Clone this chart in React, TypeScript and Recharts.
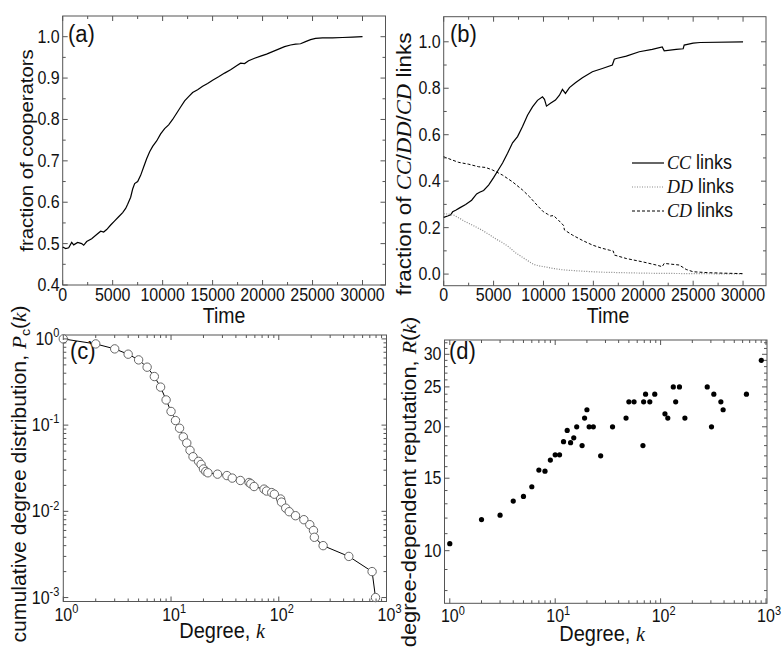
import React from "react";
import { LineChart, Line, ComposedChart, ScatterChart, Scatter, XAxis, YAxis, Legend } from "recharts";

// (a) fraction of cooperators
const A_TIME = [0, 300, 600, 900, 1100, 1500, 1900, 2100, 2400, 2900, 3400, 3800, 4100, 4400, 4800, 5200, 5600, 6000, 6300, 6500, 6800, 7000, 7200, 7500, 7800, 8100, 8400, 8700, 9000, 9400, 9800, 10200, 10600, 11000, 11400, 11800, 12200, 12600, 13000, 13500, 14000, 14500, 15000, 15600, 16200, 16800, 17400, 17800, 18200, 18600, 19200, 19800, 20400, 21000, 21600, 22200, 22800, 23300, 23800, 24300, 24800, 25300, 26000, 27000, 28000, 29000, 30000];
const A_FRAC = [0.492, 0.488, 0.49, 0.503, 0.497, 0.503, 0.5, 0.496, 0.505, 0.512, 0.522, 0.53, 0.528, 0.534, 0.545, 0.555, 0.565, 0.575, 0.585, 0.595, 0.612, 0.632, 0.645, 0.65, 0.665, 0.685, 0.705, 0.722, 0.735, 0.748, 0.765, 0.778, 0.787, 0.8, 0.815, 0.83, 0.845, 0.855, 0.865, 0.872, 0.88, 0.887, 0.895, 0.903, 0.912, 0.92, 0.93, 0.936, 0.935, 0.942, 0.948, 0.953, 0.958, 0.964, 0.97, 0.976, 0.98, 0.982, 0.983, 0.988, 0.993, 0.996, 0.997, 0.997, 0.998, 0.999, 1.0];

// (b) CC / DD / CD link fractions
const B_CC_TIME = [0, 400, 700, 900, 1200, 1600, 2200, 2800, 3300, 3600, 4000, 4500, 5000, 5500, 5900, 6400, 6900, 7400, 7900, 8400, 8900, 9400, 9900, 10100, 10300, 10700, 11200, 11600, 11900, 12200, 12600, 13200, 13900, 14900, 15900, 16900, 17100, 17300, 18300, 19600, 20900, 21900, 22100, 23300, 24000, 24100, 25000, 25700, 30000];
const B_CC = [0.244, 0.25, 0.255, 0.268, 0.275, 0.285, 0.3, 0.318, 0.345, 0.352, 0.36, 0.383, 0.415, 0.45, 0.478, 0.52, 0.565, 0.592, 0.635, 0.684, 0.72, 0.748, 0.763, 0.752, 0.723, 0.735, 0.749, 0.77, 0.795, 0.778, 0.803, 0.824, 0.845, 0.871, 0.885, 0.9, 0.925, 0.928, 0.938, 0.957, 0.967, 0.978, 0.961, 0.967, 0.97, 0.986, 0.994, 0.997, 1.0];
const B_DD_TIME = [0, 500, 1000, 1600, 2200, 3000, 3800, 4500, 5200, 5900, 6500, 7200, 7800, 8400, 9000, 9600, 10300, 11000, 12000, 13000, 14500, 16000, 18000, 20000, 22000, 25000, 28000, 30000];
const B_DD = [0.26, 0.258, 0.254, 0.24, 0.225, 0.208, 0.19, 0.172, 0.152, 0.135, 0.118, 0.092, 0.075, 0.058, 0.042, 0.035, 0.03, 0.024, 0.018, 0.015, 0.011, 0.008, 0.006, 0.004, 0.003, 0.002, 0.001, 0.001];
const B_CD_TIME = [0, 800, 1500, 2500, 3500, 4200, 4900, 5900, 6900, 7900, 8600, 9500, 10000, 10400, 10700, 11000, 11500, 12000, 12100, 12900, 13900, 14900, 15800, 16600, 17000, 17100, 18300, 19900, 21300, 21900, 22100, 23600, 24300, 25000, 26500, 28000, 30000];
const B_CD = [0.505, 0.492, 0.481, 0.473, 0.462, 0.459, 0.448, 0.426, 0.397, 0.362, 0.333, 0.29, 0.268, 0.258, 0.25, 0.252, 0.232, 0.21, 0.19, 0.168, 0.145, 0.125, 0.112, 0.103, 0.099, 0.082, 0.067, 0.053, 0.039, 0.032, 0.046, 0.039, 0.02, 0.01, 0.006, 0.004, 0.002];

// (c) cumulative degree distribution
const C_DEGREE = [1, 2, 3, 4, 5, 6, 7, 8, 9, 10, 11, 12, 13, 14, 15, 16, 18, 19, 20, 21, 22, 27, 33, 37, 44, 53, 55, 59, 73, 77, 86, 91, 104, 106, 116, 125, 143, 171, 194, 210, 214, 258, 447, 735, 791];
const C_PC = [1.0, 0.875, 0.766, 0.665, 0.571, 0.47, 0.366, 0.276, 0.196, 0.144, 0.113, 0.092, 0.073, 0.062, 0.051, 0.043, 0.038, 0.035, 0.031, 0.029, 0.028, 0.027, 0.026, 0.0243, 0.0228, 0.0216, 0.0209, 0.0194, 0.0181, 0.0172, 0.0165, 0.0158, 0.0139, 0.0128, 0.0109, 0.0099, 0.0089, 0.008, 0.007, 0.006, 0.005, 0.004, 0.003, 0.002, 0.001];

// (d) degree-dependent reputation
const D_DEGREE = [1, 2, 3, 4, 5, 6, 7, 8, 9, 10, 11, 12, 13, 14, 15, 16, 18, 19, 20, 21, 23, 27, 35, 47, 50, 56, 68, 69, 72, 79, 88, 110, 117, 132, 139, 151, 170, 277, 304, 320, 373, 392, 652, 903];
const D_REP = [10.4, 11.9, 12.2, 13.2, 13.55, 14.3, 15.7, 15.6, 16.6, 17.1, 17.1, 18.4, 19.6, 18.3, 18.8, 20, 18, 21, 22, 20, 20, 17, 20, 21, 23, 23, 18, 23, 24, 23, 24, 21.5, 21, 25, 23, 25, 21, 25, 20, 24, 23, 22, 24, 29];

// ticks
const TIME_MAJOR = [0, 5000, 10000, 15000, 20000, 25000, 30000];
const TIME_MINOR = [2500, 7500, 12500, 17500, 22500, 27500];
const A_Y_MAJOR = [0.4, 0.5, 0.6, 0.7, 0.8, 0.9, 1.0];
const A_Y_MINOR = [0.45, 0.55, 0.65, 0.75, 0.85, 0.95];
const B_Y_MAJOR = [0, 0.2, 0.4, 0.6, 0.8, 1.0];
const B_Y_MINOR = [0.1, 0.3, 0.5, 0.7, 0.9];
const DEG_MAJOR = [1, 10, 100, 1000];
const DEG_MINOR = [2, 3, 4, 5, 6, 7, 8, 9, 20, 30, 40, 50, 60, 70, 80, 90, 200, 300, 400, 500, 600, 700, 800, 900];
const C_Y_MAJOR = [0.001, 0.01, 0.1, 1];
const C_Y_MINOR = [0.002, 0.003, 0.004, 0.005, 0.006, 0.007, 0.008, 0.009, 0.02, 0.03, 0.04, 0.05, 0.06, 0.07, 0.08, 0.09, 0.2, 0.3, 0.4, 0.5, 0.6, 0.7, 0.8, 0.9];
const D_Y_MAJOR = [10, 15, 20, 25, 30];
const D_Y_MINOR = [8, 9, 11, 12, 13, 14, 16, 17, 18, 19, 21, 22, 23, 24, 26, 27, 28, 29, 31, 32];

const W = 784;
const H = 648;
const SANS = '"Liberation Sans", Arial, Helvetica, sans-serif';
const SERIF = '"Liberation Serif", "Times New Roman", serif';
const INK = "#111";
const FRAME = "#555";
const SY = 1.1; // the figure is a bit taller than wide
const TICK = 16;
const TITLE = 20;

type Box = { left: number; right: number; top: number; bottom: number };
const BOX_A: Box = { left: 62.7, right: 385.5, top: 16, bottom: 285 };
const BOX_B: Box = { left: 443.7, right: 766, top: 16.7, bottom: 285.7 };
const BOX_C: Box = { left: 63.3, right: 386.5, top: 335, bottom: 601.5 };
const BOX_D: Box = { left: 444.5, right: 767, top: 340, bottom: 603.3 };

const margins = (b: Box) => ({ top: b.top, left: 0, right: W - b.right, bottom: 0 });

function SText({ x, y, size, anchor = "start", rotate = false, children }: any) {
  const tf = `translate(${x},${y}) scale(1,${SY})${rotate ? " rotate(-90)" : ""}`;
  return (
    <text transform={tf} fontSize={size} textAnchor={anchor} fontFamily={SANS} fill={INK}>
      {children}
    </text>
  );
}

const It = ({ children }: any) => (
  <tspan fontFamily={SERIF} fontStyle="italic">{children}</tspan>
);

const expOf = (v: number) => String(Math.round(Math.log10(v)));

function xTick(box: Box, major: number[], label: (v: number, x: number) => React.ReactNode) {
  return (p: any) => {
    const v = p.payload.value;
    const isMajor = major.includes(v);
    const len = isMajor ? 5 : 3;
    return (
      <g>
        <line x1={p.x} x2={p.x} y1={box.bottom} y2={box.bottom - len} stroke={FRAME} />
        <line x1={p.x} x2={p.x} y1={box.top} y2={box.top + len} stroke={FRAME} />
        {isMajor ? label(v, p.x) : null}
      </g>
    );
  };
}

function yTick(box: Box, major: number[], label: (v: number, y: number) => React.ReactNode) {
  return (p: any) => {
    const v = p.payload.value;
    const isMajor = major.includes(v);
    const len = isMajor ? 5 : 3;
    return (
      <g>
        <line y1={p.y} y2={p.y} x1={box.left} x2={box.left + len} stroke={FRAME} />
        <line y1={p.y} y2={p.y} x1={box.right} x2={box.right - len} stroke={FRAME} />
        {isMajor ? label(v, p.y) : null}
      </g>
    );
  };
}

const linX = (box: Box) => (v: number, x: number) => (
  <SText x={x} y={box.bottom + 15.5} size={TICK} anchor="middle">{String(v)}</SText>
);
const linY = (box: Box) => (v: number, y: number) => (
  <SText x={box.left - 3} y={y + 6} size={TICK} anchor="end">{v.toFixed(1)}</SText>
);
const logX = (box: Box) => (v: number, x: number) => (
  <SText x={x - 8.9} y={box.bottom + 19} size={TICK}>
    10<tspan dy={-7} fontSize={11}>{expOf(v)}</tspan>
  </SText>
);
const logY = (box: Box) => (v: number, y: number) => (
  <SText x={box.left - 4} y={y + 6} size={TICK} anchor="end">
    10<tspan dy={-7} fontSize={11}>{expOf(v)}</tspan>
  </SText>
);
const plainY = (box: Box) => (v: number, y: number) => (
  <SText x={box.left - 3} y={y + 6} size={TICK} anchor="end">{String(v)}</SText>
);

const Frame = ({ box }: { box: Box }) => (
  <rect x={box.left} y={box.top} width={box.right - box.left} height={box.bottom - box.top} fill="none" stroke={FRAME} strokeWidth={1} />
);

const B_SERIES = [
  { key: "cc", tag: "CC", time: B_CC_TIME, vals: B_CC, stroke: "#000", dash: undefined as string | undefined, width: 1.2 },
  { key: "dd", tag: "DD", time: B_DD_TIME, vals: B_DD, stroke: "#8a8a8a", dash: "1 1.5", width: 1.2 },
  { key: "cd", tag: "CD", time: B_CD_TIME, vals: B_CD, stroke: "#000", dash: "3 2", width: 1 },
];

// keep the series order of the original legend (CC, DD, CD)
function LegendB() {
  return (
    <svg width={140} height={72} style={{ overflow: "visible", display: "block" }}>
      {B_SERIES.map((s, i) => {
        const cy = 12 + i * 24;
        return (
          <g key={s.tag}>
            <line x1={4} x2={36} y1={cy} y2={cy} stroke={s.stroke} strokeDasharray={s.dash} strokeWidth={s.width} />
            <SText x={39} y={cy + 6} size={18}>
              <It>{s.tag}</It> links
            </SText>
          </g>
        );
      })}
    </svg>
  );
}

const layer: React.CSSProperties = { position: "absolute", left: 0, top: 0 };

export default function App() {
  const aData = A_TIME.map((t, i) => ({ t, v: A_FRAC[i] }));
  const cData = C_DEGREE.map((k, i) => ({ k, p: C_PC[i] }));
  const dData = D_DEGREE.map((k, i) => ({ k, r: D_REP[i] }));

  return (
    <div style={{ position: "absolute", left: 0, top: 0, width: W, height: H, background: "#fff" }}>
      {/* (a) */}
      <div style={layer}>
        <LineChart width={W} height={H} data={aData} margin={margins(BOX_A)}>
          <XAxis dataKey="t" type="number" domain={[0, 32300]} ticks={[...TIME_MAJOR, ...TIME_MINOR]} interval={0}
            tick={xTick(BOX_A, TIME_MAJOR, linX(BOX_A))} tickLine={false} axisLine={false} tickSize={0} tickMargin={0}
            height={H - BOX_A.bottom} />
          <YAxis type="number" domain={[0.4, 1.05]} ticks={[...A_Y_MAJOR, ...A_Y_MINOR]} interval={0}
            tick={yTick(BOX_A, A_Y_MAJOR, linY(BOX_A))} tickLine={false} axisLine={false} tickSize={0} tickMargin={0}
            width={BOX_A.left} />
          <Line dataKey="v" type="linear" stroke="#000" strokeWidth={1.2} dot={false} isAnimationActive={false} />
          <Frame box={BOX_A} />
          <SText x={68} y={42} size={22}>(a)</SText>
          <SText x={224} y={323} size={19.5} anchor="middle">Time</SText>
          <SText x={33} y={150.5} size={18.5} anchor="middle" rotate>fraction of cooperators</SText>
        </LineChart>
      </div>

      {/* (b) */}
      <div style={layer}>
        <LineChart width={W} height={H} margin={margins(BOX_B)}>
          <XAxis dataKey="t" type="number" domain={[0, 32300]} ticks={[...TIME_MAJOR, ...TIME_MINOR]} interval={0}
            tick={xTick(BOX_B, TIME_MAJOR, linX(BOX_B))} tickLine={false} axisLine={false} tickSize={0} tickMargin={0}
            height={H - BOX_B.bottom} />
          <YAxis type="number" domain={[-0.05, 1.108]} ticks={[...B_Y_MAJOR, ...B_Y_MINOR]} interval={0}
            tick={yTick(BOX_B, B_Y_MAJOR, linY(BOX_B))} tickLine={false} axisLine={false} tickSize={0} tickMargin={0}
            width={BOX_B.left} />
          {B_SERIES.map((s) => (
            <Line key={s.key} data={s.time.map((t, i) => ({ t, v: s.vals[i] }))} dataKey="v" name={s.tag}
              type="linear" stroke={s.stroke} strokeDasharray={s.dash} strokeWidth={s.width} dot={false}
              isAnimationActive={false} />
          ))}
          <Legend layout="vertical" align="center" verticalAlign="middle" content={LegendB}
            wrapperStyle={{ left: 628, top: 151, width: 140, height: 72 }} />
          <Frame box={BOX_B} />
          <SText x={450} y={42} size={22}>(b)</SText>
          <SText x={608} y={323} size={19.5} anchor="middle">Time</SText>
          <SText x={411} y={164} size={20.5} anchor="middle" rotate>
            fraction of <It>CC</It>/<It>DD</It>/<It>CD</It> links
          </SText>
        </LineChart>
      </div>

      {/* (c) */}
      <div style={layer}>
        <ComposedChart width={W} height={H} data={cData} margin={margins(BOX_C)}>
          <XAxis dataKey="k" type="number" scale="log" domain={[1, 1000]} ticks={[...DEG_MAJOR, ...DEG_MINOR]} interval={0}
            tick={xTick(BOX_C, DEG_MAJOR, logX(BOX_C))} tickLine={false} axisLine={false} tickSize={0} tickMargin={0}
            height={H - BOX_C.bottom} />
          <YAxis type="number" scale="log" domain={[0.0009, 1.11]} ticks={[...C_Y_MAJOR, ...C_Y_MINOR]} interval={0}
            tick={yTick(BOX_C, C_Y_MAJOR, logY(BOX_C))} tickLine={false} axisLine={false} tickSize={0} tickMargin={0}
            width={BOX_C.left} />
          <Line dataKey="p" type="linear" stroke="#000" strokeWidth={1}
            dot={{ r: 4.2, fill: "#fff", stroke: "#666", strokeWidth: 1 }} isAnimationActive={false} />
          <Frame box={BOX_C} />
          <SText x={70} y={359} size={22}>(c)</SText>
          <SText x={222} y={638} size={TITLE} anchor="middle">
            Degree, <It>k</It>
          </SText>
          <SText x={26} y={474} size={19.3} anchor="middle" rotate>
            cumulative degree distribution, <It>P</It>
            <tspan dy={4} fontSize={13}>c</tspan>
            <tspan dy={-4}>(</tspan>
            <It>k</It>)
          </SText>
        </ComposedChart>
      </div>

      {/* (d) */}
      <div style={layer}>
        <ScatterChart width={W} height={H} margin={margins(BOX_D)}>
          <XAxis dataKey="k" type="number" scale="log" domain={[0.891, 1022]} ticks={[...DEG_MAJOR, ...DEG_MINOR]} interval={0}
            tick={xTick(BOX_D, DEG_MAJOR, logX(BOX_D))} tickLine={false} axisLine={false} tickSize={0} tickMargin={0}
            height={H - BOX_D.bottom} />
          <YAxis dataKey="r" type="number" scale="log" domain={[7.45, 32.5]} ticks={[...D_Y_MAJOR, ...D_Y_MINOR]} interval={0}
            tick={yTick(BOX_D, D_Y_MAJOR, plainY(BOX_D))} tickLine={false} axisLine={false} tickSize={0} tickMargin={0}
            width={BOX_D.left} />
          <Scatter data={dData} fill="#000" isAnimationActive={false}
            shape={(p: any) => <circle cx={p.cx} cy={p.cy} r={2.6} fill="#000" />} />
          <Frame box={BOX_D} />
          <SText x={449} y={359} size={22}>(d)</SText>
          <SText x={602} y={641} size={TITLE} anchor="middle">
            Degree, <It>k</It>
          </SText>
          <SText x={416} y={482} size={19.8} anchor="middle" rotate>
            degree-dependent reputation, <It>R</It>(<It>k</It>)
          </SText>
        </ScatterChart>
      </div>
    </div>
  );
}
